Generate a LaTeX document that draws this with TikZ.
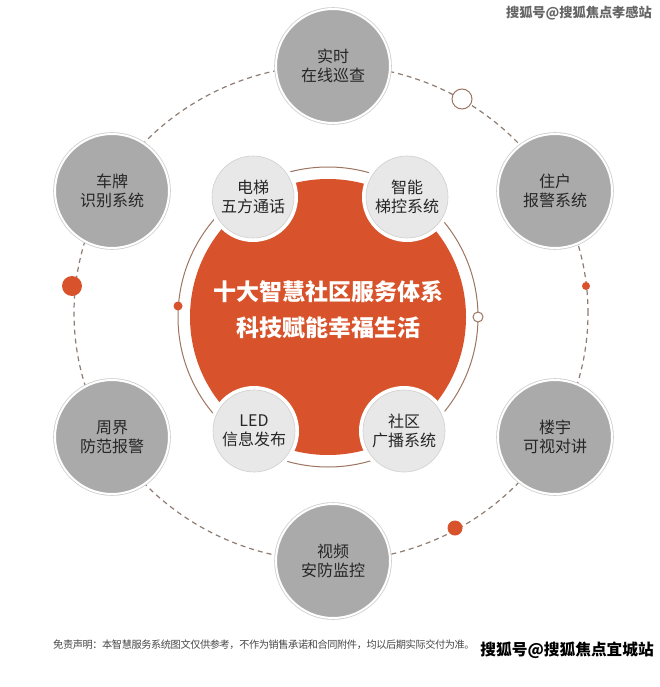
\documentclass[tikz,border=0pt]{standalone}
\usepackage{fontspec}
\setmainfont{Noto Sans CJK SC}
\usetikzlibrary{shapes}
\definecolor{hubred}{HTML}{D8532B}
\definecolor{svcgray}{HTML}{AAAAAA}
\definecolor{svclight}{HTML}{E8E8E8}
\definecolor{ringline}{HTML}{CFCFCF}
\definecolor{ringbrown}{HTML}{9C7560}
\definecolor{dashbrown}{HTML}{8E7D73}
\definecolor{txtdark}{HTML}{262626}
\tikzset{
	svc_txt/.style = {align=center, inner sep=0pt, text=txtdark,
		font=\fontsize{16}{19}\selectfont},
	svc_out/.style = {svc_txt, circle, fill=svcgray, draw=white, line width=2pt,
		minimum size=114pt, preaction={draw=ringline, line width=3.6pt}},% outer service, grey disc
	svc_in/.style = {svc_txt, circle, fill=svclight, draw=ringline, line width=0.6pt,
		minimum size=82pt, preaction={draw=white, line width=8pt}},% inner service, light disc
	dot_full/.style = {circle, inner sep=0pt, fill=hubred},% filled orange dot
	dot_open/.style = {circle, inner sep=0pt, fill=white, draw=ringbrown,
		line width=1pt}% hollow dot
}
\begin{document}
\begin{tikzpicture}[x=1pt,y=-1pt]
	\fill[white] (0,0) rectangle (660,687);
	\useasboundingbox (0,0) rectangle (660,687);
	% outer dashed orbit
	\draw[dashbrown, line width=1.2pt, dash pattern=on 5pt off 4pt]
		(331,313) ellipse [x radius=257pt, y radius=248pt];
	\node [svc_out] (patrol) at (333,66) {实时\\在线巡查};
	\node [svc_out] (plate) at (112,191) {车牌\\识别系统};
	\node [svc_out] (alarm) at (555,191) {住户\\报警系统};
	\node [svc_out] (fence) at (112,437) {周界\\防范报警};
	\node [svc_out] (intercom) at (555,437) {楼宇\\可视对讲};
	\node [svc_out] (video) at (333,561) {视频\\安防监控};
	\node [dot_full, minimum size=20pt] (o_w) at (72,286) {};
	\node [dot_full, minimum size=8pt] (o_e) at (586,286) {};
	\node [dot_full, minimum size=15pt] (o_se) at (455,528) {};
	\node [dot_open, minimum size=20pt] (o_ne) at (462,99) {};
	% hub
	\draw[ringbrown, line width=1pt] (328,317) circle (150pt);
	\fill[hubred] (328,317) circle (138pt);
	\node [dot_full, minimum size=9pt] (r_w) at (178,306) {};
	\node [dot_open, minimum size=10pt] (r_e) at (478,317) {};
	\node [svc_in] (lift) at (253,197) {电梯\\五方通话};
	\node [svc_in] (ctrl) at (407,197) {智能\\梯控系统};
	\node [svc_in] (led) at (254,431) {LED\\信息发布};
	\node [svc_in] (radio) at (404,431) {社区\\广播系统};
	\node [align=center, text=white, font=\fontsize{23}{36}\selectfont\bfseries]
		(hub) at (328,310) {十大智慧社区服务体系\\科技赋能幸福生活};
	% footer and marks
	\node [anchor=west, inner sep=0pt, text=txtdark!85, font=\fontsize{10.2}{12}\selectfont\addfontfeature{LetterSpace=-4}]
		(note) at (53,645) {免责声明：本智慧服务系统图文仅供参考，不作为销售承诺和合同附件，均以后期实际交付为准。};
	\node [anchor=east, inner sep=0pt, text=black, font=\fontsize{15.7}{18}\selectfont\bfseries]
		(mark_b) at (654,650) {搜狐号@搜狐焦点宜城站};
	\node [anchor=east, inner sep=0pt, text=black!60, font=\fontsize{13.2}{15}\selectfont\bfseries]
		(mark_t) at (652,13) {搜狐号@搜狐焦点孝感站};
\end{tikzpicture}
\end{document}
